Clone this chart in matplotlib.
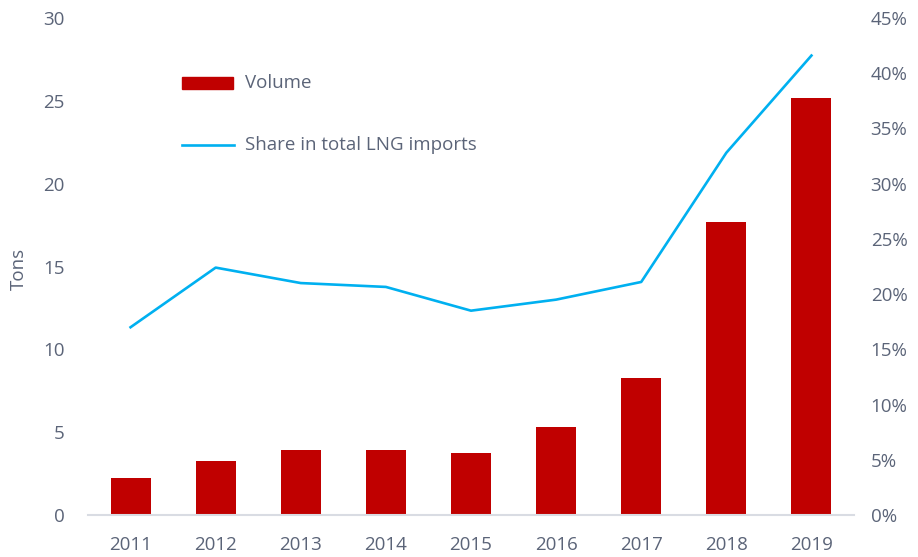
import matplotlib.pyplot as plt
from matplotlib.ticker import FuncFormatter

years = ['2011', '2012', '2013', '2014', '2015', '2016', '2017', '2018', '2019']
volume = [2.23, 3.26, 3.92, 3.92, 3.74, 5.31, 8.27, 17.68, 25.2]
share = [17.0, 22.4, 21.0, 20.65, 18.5, 19.5, 21.1, 32.8, 41.6]

txt = '#5b6478'
plt.rcParams['font.family'] = ['Open Sans', 'DejaVu Sans']

fig = plt.figure(figsize=(9.18, 5.57), dpi=100)
ax = fig.add_axes([88 / 918, 1 - 515 / 557, (854 - 88) / 918, (515 - 18) / 557])
ax2 = ax.twinx()

x = range(len(years))
ax.bar(x, volume, width=0.47, color='#C00000', zorder=2)
ax2.plot(x, share, color='#00B0F0', lw=1.9, zorder=3)

ax.set_xlim(-0.5, len(years) - 0.5)
ax.set_ylim(0, 30)
ax.set_yticks(range(0, 31, 5))
ax2.set_ylim(0, 45)
ax2.set_yticks(range(0, 46, 5))
ax2.yaxis.set_major_formatter(FuncFormatter(lambda v, p: '%d%%' % v))
ax.set_xticks(list(x))
ax.set_xticklabels(years)

for a in (ax, ax2):
    for s in a.spines.values():
        s.set_visible(False)
    a.tick_params(length=0, labelsize=13.5, colors=txt)
ax.spines['bottom'].set_visible(True)
ax.spines['bottom'].set_color('#d9dce3')
ax.spines['bottom'].set_linewidth(1.5)
ax.tick_params(axis='y', pad=17)
ax.tick_params(axis='x', pad=15)
ax2.tick_params(axis='y', pad=12)
ax.set_ylabel('Tons', color=txt, fontsize=13.5)
ax.yaxis.set_label_coords(-0.078, 0.495)

# legend drawn as handles in figure coords
fig.patches.append(plt.Rectangle((182 / 918, 1 - 89 / 557), 51 / 918, 12 / 557,
                                 transform=fig.transFigure, color='#C00000'))
fig.lines.append(plt.Line2D([182 / 918, 234 / 918], [1 - 145 / 557, 1 - 145 / 557],
                            transform=fig.transFigure, color='#00B0F0', lw=1.9))
fig.text(245 / 918, 1 - 83 / 557, 'Volume', color=txt, fontsize=13.5, va='center')
fig.text(245 / 918, 1 - 145 / 557, 'Share in total LNG imports', color=txt, fontsize=13.5, va='center')

fig.savefig('out.png', dpi=100)
